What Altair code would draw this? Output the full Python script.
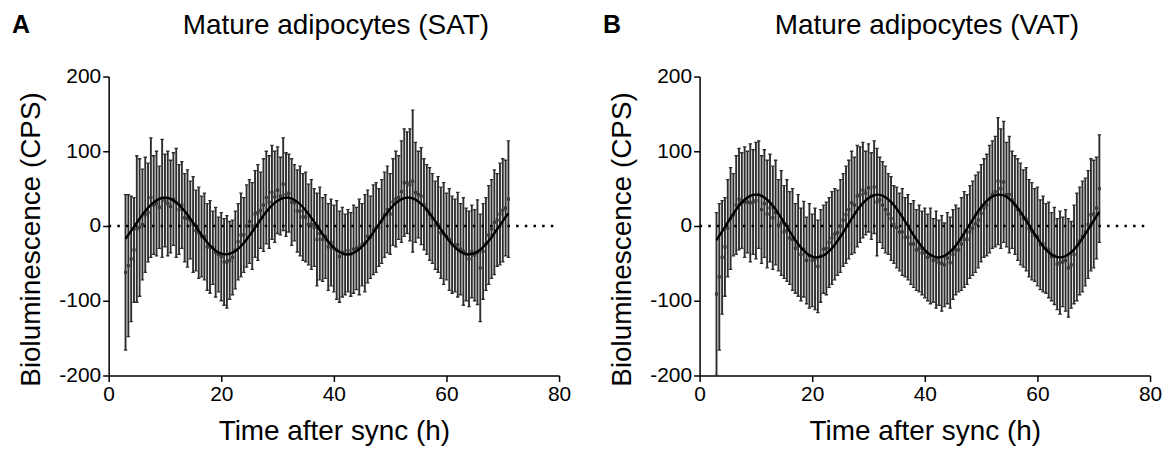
import altair as alt
import pandas as pd

FONT = "Liberation Sans"

TIME = [3.0, 3.5, 4.0, 4.5, 5.0, 5.5, 6.0, 6.5, 7.0, 7.5,
        8.0, 8.5, 9.0, 9.5, 10.0, 10.5, 11.0, 11.5, 12.0, 12.5,
        13.0, 13.5, 14.0, 14.5, 15.0, 15.5, 16.0, 16.5, 17.0, 17.5,
        18.0, 18.5, 19.0, 19.5, 20.0, 20.5, 21.0, 21.5, 22.0, 22.5,
        23.0, 23.5, 24.0, 24.5, 25.0, 25.5, 26.0, 26.5, 27.0, 27.5,
        28.0, 28.5, 29.0, 29.5, 30.0, 30.5, 31.0, 31.5, 32.0, 32.5,
        33.0, 33.5, 34.0, 34.5, 35.0, 35.5, 36.0, 36.5, 37.0, 37.5,
        38.0, 38.5, 39.0, 39.5, 40.0, 40.5, 41.0, 41.5, 42.0, 42.5,
        43.0, 43.5, 44.0, 44.5, 45.0, 45.5, 46.0, 46.5, 47.0, 47.5,
        48.0, 48.5, 49.0, 49.5, 50.0, 50.5, 51.0, 51.5, 52.0, 52.5,
        53.0, 53.5, 54.0, 54.5, 55.0, 55.5, 56.0, 56.5, 57.0, 57.5,
        58.0, 58.5, 59.0, 59.5, 60.0, 60.5, 61.0, 61.5, 62.0, 62.5,
        63.0, 63.5, 64.0, 64.5, 65.0, 65.5, 66.0, 66.5, 67.0, 67.5,
        68.0, 68.5, 69.0, 69.5, 70.0, 70.5, 71.0]

SAT_MEAN = [-62, -53, -44, -32, -4, -2, 2, 15, 18, 38,
            28, 30, 25, 37, 34, 30, 26, 36, 31, 22,
            28, 11, 10, 8, 2, -6, -9, -14, -14, -28,
            -28, -29, -35, -38, -41, -48, -48, -46, -42, -32,
            -21, -12, -12, 0, 6, 0, 16, 18, 21, 28,
            38, 32, 45, 39, 48, 40, 56, 42, 44, 32,
            31, 20, 20, 12, 12, 2, 2, -2, -18, -10,
            -18, -14, -28, -22, -30, -32, -41, -35, -38, -33,
            -38, -31, -30, -28, -25, -23, -14, -15, -5, -2,
            -2, 6, 15, 22, 16, 32, 36, 38, 46, 58,
            58, 55, 60, 45, 42, 40, 29, 22, 16, 10,
            1, 2, -9, -10, -14, -18, -25, -26, -25, -31,
            -34, -38, -44, -34, -39, -35, -56, -34, -24, -12,
            -4, 5, 8, 16, 21, 24, 36]

SAT_ERR = [104, 95, 84, 70, 98, 92, 74, 77, 66, 80,
           66, 70, 55, 79, 62, 70, 62, 62, 73, 60,
           58, 59, 65, 52, 64, 54, 61, 54, 58, 58,
           62, 49, 60, 50, 59, 58, 62, 52, 50, 52,
           51, 56, 50, 55, 56, 58, 58, 64, 51, 62,
           62, 62, 63, 61, 58, 52, 62, 56, 52, 58,
           51, 55, 60, 58, 60, 54, 60, 52, 62, 62,
           56, 56, 58, 58, 58, 66, 61, 60, 54, 55,
           56, 59, 55, 64, 55, 65, 62, 55, 60, 60,
           52, 56, 57, 58, 54, 58, 64, 56, 68, 72,
           68, 75, 95, 67, 58, 65, 61, 60, 62, 60,
           59, 64, 61, 68, 58, 68, 65, 62, 70, 61,
           72, 62, 64, 62, 61, 70, 72, 64, 62, 66,
           66, 70, 62, 68, 69, 64, 78]

VAT_MEAN = [-91, -68, -42, -28, -3, 10, 15, 28, 36, 34,
            32, 32, 31, 32, 34, 42, 22, 30, 16, 24,
            11, 18, 1, 4, -8, -6, -16, -18, -30, -26,
            -38, -31, -46, -40, -46, -44, -54, -40, -31, -30,
            -22, -16, -11, -9, 0, 8, 15, 22, 31, 28,
            40, 42, 48, 44, 51, 40, 52, 32, 35, 28,
            22, 16, 10, 2, -2, -8, -8, -15, -15, -24,
            -24, -32, -30, -36, -36, -42, -40, -46, -45, -49,
            -50, -52, -43, -49, -38, -32, -32, -24, -18, -18,
            -8, -3, 3, 8, 17, 24, 28, 36, 42, 46,
            60, 50, 59, 42, 42, 35, 28, 22, 16, 10,
            9, -3, -7, -12, -14, -25, -24, -30, -32, -41,
            -40, -51, -49, -48, -46, -56, -52, -38, -28, -20,
            -14, -8, 2, 15, 16, 24, 50]

VAT_ERR = [109, 98, 76, 66, 65, 68, 55, 66, 68, 64,
           74, 68, 79, 70, 78, 72, 72, 72, 72, 72,
           69, 70, 61, 70, 62, 68, 62, 68, 60, 68,
           62, 64, 58, 70, 62, 68, 62, 62, 59, 62,
           60, 62, 61, 57, 62, 62, 65, 66, 69, 64,
           68, 64, 64, 56, 59, 58, 62, 72, 57, 58,
           58, 54, 56, 52, 54, 52, 58, 53, 57, 54,
           58, 54, 58, 56, 60, 58, 64, 56, 65, 57,
           64, 56, 61, 61, 60, 60, 56, 62, 64, 60,
           62, 63, 65, 64, 65, 66, 68, 72, 72, 74,
           85, 80, 81, 70, 78, 65, 66, 68, 68, 65,
           69, 65, 65, 62, 66, 60, 64, 60, 64, 59,
           65, 61, 69, 60, 68, 66, 58, 66, 72, 72,
           74, 72, 72, 75, 72, 68, 72]

FIT_TIME = [3, 4, 5, 6, 7, 8, 9, 10, 11, 12, 13, 14, 15, 16, 17, 18, 19, 20,
            21, 22, 23, 24, 25, 26, 27, 28, 29, 30, 31, 32, 33, 34, 35, 36, 37,
            38, 39, 40, 41, 42, 43, 44, 45, 46, 47, 48, 49, 50, 51, 52, 53, 54,
            55, 56, 57, 58, 59, 60, 61, 62, 63, 64, 65, 66, 67, 68, 69, 70, 71]

SAT_FIT = [-17.1, -6.6, 4.4, 15.0, 24.4, 31.7, 36.4, 38.0, 36.4, 31.7, 24.4, 15.0,
           4.4, -6.6, -17.1, -26.1, -32.9, -37.0, -37.9, -35.7, -30.5, -22.7, -13.0,
           -2.2, 8.7, 19.0, 27.7, 33.9, 37.4, 37.7, 34.9, 29.1, 20.9, 10.9, 0.0,
           -10.9, -20.9, -29.1, -34.9, -37.7, -37.4, -33.9, -27.7, -19.0, -8.7, 2.2,
           13.0, 22.7, 30.5, 35.7, 37.9, 37.0, 32.9, 26.1, 17.1, 6.6, -4.4, -15.0,
           -24.4, -31.7, -36.4, -38.0, -36.4, -31.7, -24.4, -15.0, -4.4, 6.6, 17.1]

VAT_FIT = [-18.9, -7.3, 4.9, 16.6, 27.0, 35.1, 40.2, 42.0, 40.2, 35.1, 27.0, 16.6,
           4.9, -7.3, -18.9, -28.8, -36.4, -40.9, -41.9, -39.5, -33.7, -25.1, -14.4,
           -2.4, 9.7, 21.0, 30.6, 37.5, 41.4, 41.7, 38.6, 32.2, 23.1, 12.1, 0.0,
           -12.1, -23.1, -32.2, -38.6, -41.7, -41.4, -37.5, -30.6, -21.0, -9.7, 2.4,
           14.4, 25.1, 33.7, 39.5, 41.9, 40.9, 36.4, 28.8, 18.9, 7.3, -4.9, -16.6,
           -27.0, -35.1, -40.2, -42.0, -40.2, -35.1, -27.0, -16.6, -4.9, 7.3, 18.9]

ZERO_X = [0, 80]
ZERO_Y = [0, 0]
X_TICKS = [0, 20, 40, 60, 80]
Y_TICKS = [-200, -100, 0, 100, 200]

BAR_COLOR = "#2e2e2e"


def panel(letter, title, mean, err, fit):
    xs = alt.Scale(domain=[0, 80], nice=False, zero=False)
    ys = alt.Scale(domain=[-200, 200], nice=False)
    xax = alt.Axis(values=X_TICKS, title="Time after sync (h)", labelExpr="'' + datum.value",
                   labelFlush=False)
    yax = alt.Axis(values=Y_TICKS, title="Bioluminescence (CPS)", labelExpr="'' + datum.value",
                   titleY=163)

    base = alt.Chart(pd.DataFrame({"t": TIME, "mean": mean, "err": err})).transform_calculate(
        lo="datum.mean - datum.err", hi="datum.mean + datum.err"
    )
    X = alt.X("t:Q", scale=xs, axis=xax)

    bars = base.mark_rule(color=BAR_COLOR, strokeWidth=1.9, clip=True).encode(
        x=X, y=alt.Y("lo:Q", scale=ys, axis=yax), y2="hi:Q"
    )
    cap_hi = base.mark_rule(color=BAR_COLOR, strokeWidth=1.3, xOffset=-1.7, x2Offset=1.7, clip=True).encode(
        x=X, x2="t:Q", y=alt.Y("hi:Q", scale=ys)
    )
    cap_lo = base.mark_rule(color=BAR_COLOR, strokeWidth=1.3, xOffset=-1.7, x2Offset=1.7, clip=True).encode(
        x=X, x2="t:Q", y=alt.Y("lo:Q", scale=ys)
    )
    zero = alt.Chart(pd.DataFrame({"t": ZERO_X, "v": ZERO_Y})).mark_line(
        color="black", strokeWidth=2.5, strokeDash=[2.5, 6.2]
    ).encode(x=X, y=alt.Y("v:Q", scale=ys))
    pts = base.mark_point(shape="square", size=10, filled=True, color="#3a3a3a", opacity=1).encode(
        x=X, y=alt.Y("mean:Q", scale=ys)
    )
    fitline = alt.Chart(pd.DataFrame({"t": FIT_TIME, "fit": fit})).mark_line(
        color="black", strokeWidth=2.4, interpolate="natural"
    ).encode(x=X, y=alt.Y("fit:Q", scale=ys))
    lab = alt.Chart(pd.DataFrame({"s": [letter]})).mark_text(
        align="left", baseline="middle", fontSize=25, fontWeight="bold", font=FONT, color="black"
    ).encode(x=alt.value(-97), y=alt.value(-52), text="s:N")
    ttl = alt.Chart(pd.DataFrame({"s": [title]})).mark_text(
        align="center", baseline="middle", fontSize=28, font=FONT, color="black"
    ).encode(x=alt.value(228), y=alt.value(-51), text="s:N")

    return alt.layer(bars, cap_hi, cap_lo, zero, pts, fitline, lab, ttl).properties(
        width=452,
        height=300,
    )


chart = alt.hconcat(
    panel("A", "Mature adipocytes (SAT)", SAT_MEAN, SAT_ERR, SAT_FIT),
    panel("B", "Mature adipocytes (VAT)", VAT_MEAN, VAT_ERR, VAT_FIT),
    spacing=32,
).properties(
    padding={"left": 4, "top": 3, "right": 0, "bottom": 0}
).configure_view(stroke=None).configure_axis(
    domainColor="black", domainWidth=1.5, tickColor="black", tickWidth=1.5, tickSize=6,
    labelFontSize=21, labelFont=FONT, labelColor="black", labelPadding=2,
    titleFontSize=28, titleFont=FONT, titleColor="black", titleFontWeight="normal",
    grid=False,
).configure_axisY(titlePadding=13).configure_axisX(titlePadding=13)

chart.save("out.html", embed_options={"renderer": "svg", "actions": False})
